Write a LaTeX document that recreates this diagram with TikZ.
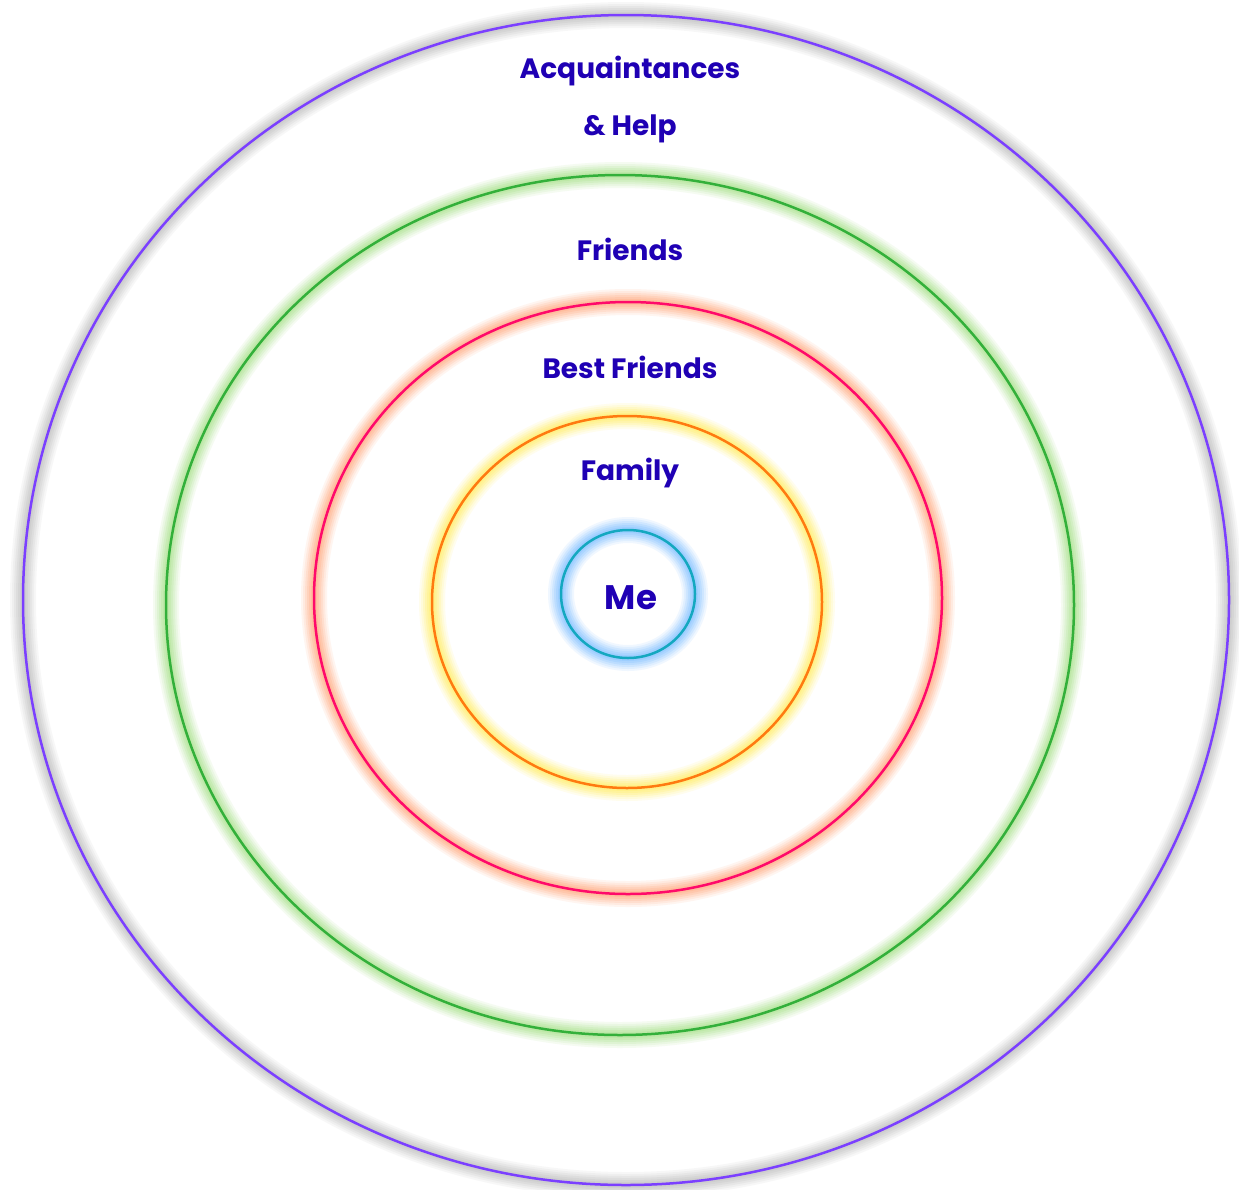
\documentclass[tikz,border=0pt]{standalone}
\usepackage{fontspec}
\setmainfont{Poppins}
\definecolor{txt}{HTML}{1F00B4}
\definecolor{cpurple}{HTML}{7B3FFF}
\definecolor{cgreen}{HTML}{33B03A}
\definecolor{cred}{HTML}{FF0A6A}
\definecolor{corange}{HTML}{FF7A10}
\definecolor{ccyan}{HTML}{14A8C0}
\definecolor{ggrey}{HTML}{C4C4C4}
\definecolor{ggreen}{HTML}{B0E494}
\definecolor{gorange}{HTML}{FFB088}
\definecolor{gyellow}{HTML}{FFF070}
\definecolor{gblue}{HTML}{88C4FF}
\tikzset{
  lbl/.style={font=\fontsize{28}{34}\selectfont\bfseries, text=txt, inner sep=0pt},
  ring/.style={line width=2.5pt},
}
\newcommand{\glowring}[5]{%
  \foreach \w/\o in {26/0.12,22/0.15,18/0.2,14/0.25,10/0.3,6/0.4}{
    \draw[#5, line width=\w pt, opacity=\o] (#1,#2) ellipse [x radius=#3, y radius=#4];
  }
}
\begin{document}
\begin{tikzpicture}[x=1pt,y=-1pt]
\useasboundingbox[fill=white] (0,0) rectangle (1239,1189);
% outer
\glowring{626}{600}{603}{585}{ggrey}
\draw[ring, cpurple] (626,600) ellipse [x radius=603, y radius=585];
% green
\glowring{620}{605}{454}{430}{ggreen}
\draw[ring, cgreen] (620,605) ellipse [x radius=454, y radius=430];
% red
\glowring{628}{598}{314}{296}{gorange}
\draw[ring, cred] (628,598) ellipse [x radius=314, y radius=296];
% orange
\glowring{627}{602}{195}{186}{gyellow}
\draw[ring, corange] (627,602) ellipse [x radius=195, y radius=186];
% blue
\glowring{628}{594}{67}{64}{gblue}
\draw[ring, ccyan] (628,594) ellipse [x radius=67, y radius=64];
% labels
\node[lbl] (acq) at (630,71) {Acquaintances};
\node[lbl] (help) at (630,129) {\& Help};
\node[lbl] (fr) at (630,249) {Friends};
\node[lbl] (bf) at (630,367) {Best Friends};
\node[lbl] (fam) at (630,473) {Family};
\node[lbl, font=\fontsize{34}{40}\selectfont\bfseries] (me) at (631,598) {Me};
\end{tikzpicture}
\end{document}
